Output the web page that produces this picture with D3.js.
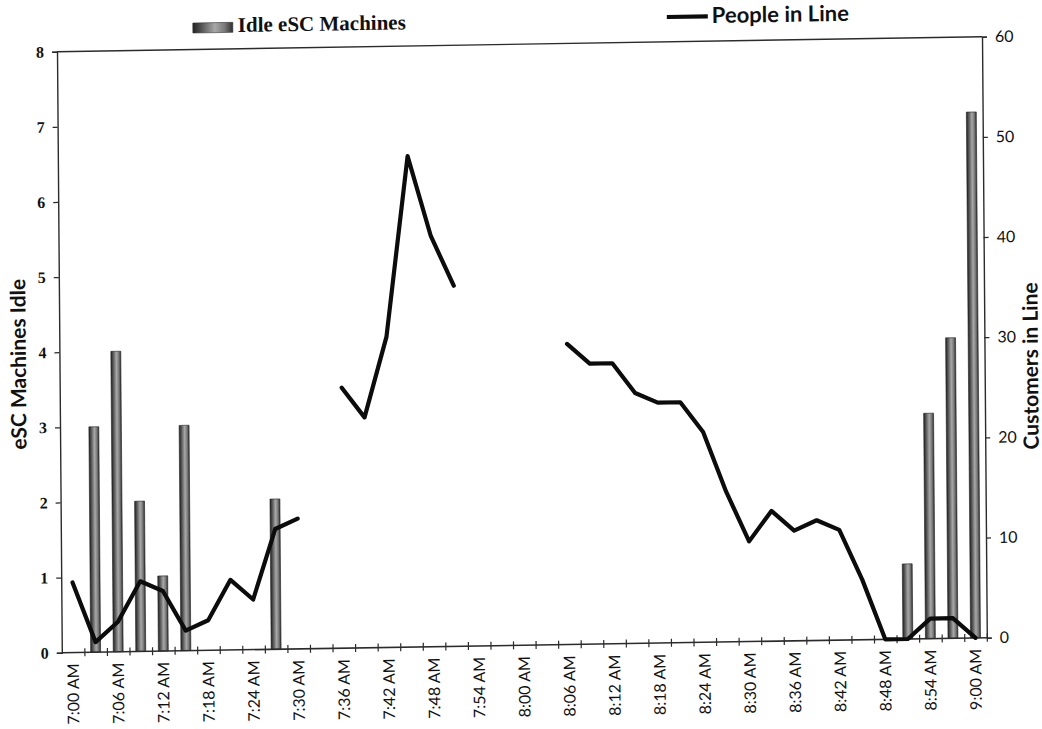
<!DOCTYPE html>
<html>
<head>
<meta charset="utf-8">
<script src="https://cdn.jsdelivr.net/npm/d3@7"></script>
<style>
  html, body { margin: 0; padding: 0; background: #fff; }
  svg { display: block; }
  text { fill: #111; }
  .serif { font-family: "Liberation Serif", "Times New Roman", serif; }
  .sans { font-family: Lato, "Open Sans", "Noto Sans", sans-serif; }
</style>
</head>
<body>
<svg id="chart" width="1042" height="729"></svg>
<script>
// Three-minute time slots, 7:00 AM to 9:00 AM
const times = [
  "7:00 AM","7:03 AM","7:06 AM","7:09 AM","7:12 AM","7:15 AM","7:18 AM","7:21 AM",
  "7:24 AM","7:27 AM","7:30 AM","7:33 AM","7:36 AM","7:39 AM","7:42 AM","7:45 AM",
  "7:48 AM","7:51 AM","7:54 AM","7:57 AM","8:00 AM","8:03 AM","8:06 AM","8:09 AM",
  "8:12 AM","8:15 AM","8:18 AM","8:21 AM","8:24 AM","8:27 AM","8:30 AM","8:33 AM",
  "8:36 AM","8:39 AM","8:42 AM","8:45 AM","8:48 AM","8:51 AM","8:54 AM","8:57 AM",
  "9:00 AM"
];

// Idle eSC machines per slot (left axis)
const idleMachines = [
  0, 3, 4, 2, 1, 3, 0, 0,
  0, 2, 0, 0, 0, 0, 0, 0,
  0, 0, 0, 0, 0, 0, 0, 0,
  0, 0, 0, 0, 0, 0, 0, 0,
  0, 0, 0, 0, 0, 1, 3, 4,
  7
];

// Customers waiting in line per slot (right axis); null = not recorded
const peopleInLine = [
  7, 1, 3, 7, 6, 2, 3, 7,
  5, 12, 13, null, 26, 23, 31, 49,
  41, 36, null, null, null, null, 30, 28,
  28, 25, 24, 24, 21, 15, 10, 13,
  11, 12, 11, 6, 0, 0, 2, 2,
  0
];

// Labelled ticks on the time axis
const timeTickLabels = [
  "7:00 AM","7:06 AM","7:12 AM","7:18 AM","7:24 AM","7:30 AM","7:36 AM",
  "7:42 AM","7:48 AM","7:54 AM","8:00 AM","8:06 AM","8:12 AM","8:18 AM",
  "8:24 AM","8:30 AM","8:36 AM","8:42 AM","8:48 AM","8:54 AM","9:00 AM"
];
const idleTicks = [0, 1, 2, 3, 4, 5, 6, 7, 8];
const lineTicks = [0, 10, 20, 30, 40, 50, 60];

const W = 925, H = 601;
const svg = d3.select("#chart");

const defs = svg.append("defs");
const grad = defs.append("linearGradient").attr("id", "barShade")
  .attr("x1", "0%").attr("x2", "100%").attr("y1", "0%").attr("y2", "0%");
[[0, "#222"], [0.22, "#555"], [0.55, "#a8a8a8"], [0.8, "#777"], [1, "#2e2e2e"]]
  .forEach(([o, c]) => grad.append("stop").attr("offset", o).attr("stop-color", c));

// Slightly skewed page frame (scanned sheet)
const g = svg.append("g")
  .attr("transform", "matrix(1,-0.01622,0.00799,1,57,51.7)");

const x = d3.scaleBand().domain(times).range([0, W]).paddingInner(0).paddingOuter(0);
const xEdge = d3.scaleLinear().domain([0, times.length]).range([0, W]);
const yL = d3.scaleLinear().domain([0, 8]).range([H, 0]);
const yR = d3.scaleLinear().domain([0, 60]).range([H, 0]);

const axisColor = "#2b2b2b";

// Bars
const barW = x.bandwidth() * 0.44;
g.append("g").selectAll("rect")
  .data(times.map((t, i) => ({ t, v: idleMachines[i] })).filter(d => d.v > 0))
  .join("rect")
  .attr("x", d => x(d.t) + (x.bandwidth() - barW) / 2)
  .attr("y", d => yL(d.v))
  .attr("width", barW)
  .attr("height", d => H - yL(d.v))
  .attr("fill", "url(#barShade)")
  .attr("stroke", "#222")
  .attr("stroke-width", 0.6);

// Frame
g.append("line").attr("x1", 0).attr("x2", W).attr("y1", 0).attr("y2", 0)
  .attr("stroke", axisColor).attr("stroke-width", 1.4);

// Left axis
const left = g.append("g")
  .call(d3.axisLeft(yL).tickValues(idleTicks).tickFormat(d3.format("d")).tickSize(5).tickPadding(8));
// Right axis
const right = g.append("g").attr("transform", `translate(${W},0)`)
  .call(d3.axisRight(yR).tickValues(lineTicks).tickFormat(d3.format("d")).tickSize(5).tickPadding(8));

// Bottom axis: crossing tick marks at slot boundaries
const bottomTicks = g.append("g").attr("transform", `translate(0,${H - 4})`)
  .call(d3.axisBottom(xEdge).tickValues(d3.range(1, times.length + 1)).tickSize(8).tickFormat(""));
bottomTicks.select(".domain").remove();
g.append("line").attr("x1", 0).attr("x2", W).attr("y1", H).attr("y2", H)
  .attr("stroke", axisColor).attr("stroke-width", 1.6);

// Bottom axis labels
const bottomLabels = g.append("g").attr("transform", `translate(0,${H})`)
  .call(d3.axisBottom(x).tickValues(timeTickLabels).tickSize(0).tickPadding(0));
bottomLabels.select(".domain").remove();
bottomLabels.selectAll("text")
  .attr("transform", "rotate(-90)")
  .attr("text-anchor", "end")
  .attr("x", -11).attr("y", 0).attr("dy", "0.35em");

[left, right, bottomTicks].forEach(a => {
  a.selectAll(".domain").attr("stroke", axisColor).attr("stroke-width", 1.4);
  a.selectAll(".tick line").attr("stroke", axisColor).attr("stroke-width", 1.2);
});
left.selectAll("text").attr("class", "serif").attr("font-family", null)
  .style("font-size", "16px").style("font-weight", "bold").attr("fill", "#111");
[right, bottomLabels].forEach(a => {
  a.selectAll("text").attr("class", "sans").attr("font-family", null)
    .style("font-size", "16px").attr("fill", "#111");
});

// People in line
const line = d3.line()
  .defined(d => d.v !== null)
  .x(d => x(d.t) + x.bandwidth() / 2)
  .y(d => yR(d.v));
g.append("path")
  .datum(times.map((t, i) => ({ t, v: peopleInLine[i] })))
  .attr("d", line)
  .attr("fill", "none")
  .attr("stroke", "#0c0c0c")
  .attr("stroke-width", 4.2)
  .attr("stroke-linejoin", "round")
  .attr("stroke-linecap", "round");

// Axis titles
g.append("text").attr("class", "sans")
  .attr("transform", `translate(-41,312) rotate(-90)`)
  .attr("text-anchor", "middle").attr("dy", "0.35em")
  .style("font-size", "21px").style("font-weight", "bold")
  .text("eSC Machines Idle");
g.append("text").attr("class", "sans")
  .attr("transform", `translate(${W + 46},330) rotate(-90)`)
  .attr("text-anchor", "middle").attr("dy", "0.35em")
  .style("font-size", "21px").style("font-weight", "bold")
  .text("Customers in Line");

// Legend
g.append("rect").attr("x", 136).attr("y", -26.5).attr("width", 40).attr("height", 10)
  .attr("fill", "url(#barShade)").attr("stroke", "#333").attr("stroke-width", 0.6);
g.append("text").attr("class", "serif").attr("x", 181).attr("y", -16.8)
  .style("font-size", "21px").style("font-weight", "bold")
  .text("Idle eSC Machines");
g.append("line").attr("x1", 610).attr("x2", 651).attr("y1", -24.8).attr("y2", -24.8)
  .attr("stroke", "#0c0c0c").attr("stroke-width", 4.2);
g.append("text").attr("class", "sans").attr("x", 655).attr("y", -18)
  .style("font-size", "22px").style("font-weight", "bold")
  .text("People in Line");
</script>
</body>
</html>
